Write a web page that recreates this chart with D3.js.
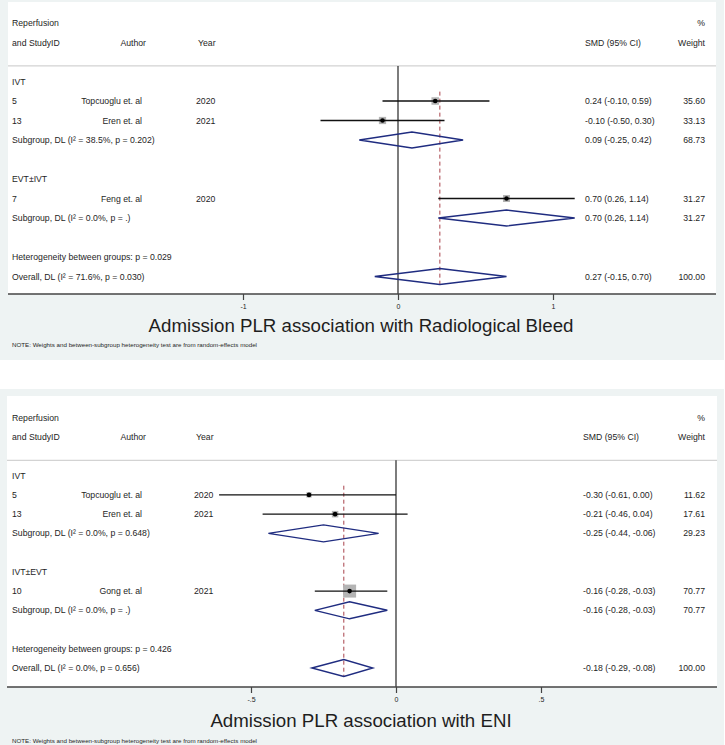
<!DOCTYPE html>
<html><head><meta charset="utf-8">
<script src="https://cdn.jsdelivr.net/npm/d3@7"></script>
<style>
body{margin:0;background:#fff}
text{font-family:"Liberation Sans",Arial,Helvetica,sans-serif;fill:#1e1e1e}
</style></head>
<body><svg id="c" width="725" height="745"></svg>
<script>
// ---------- Panel 1 data: Radiological Bleed ----------
const bleedGroups = ["IVT", "EVT±IVT"];
const bleedStudyIDs = ["5", "13", "7"];
const bleedAuthors = ["Topcuoglu et. al", "Eren et. al", "Feng et. al"];
const bleedYears = ["2020", "2021", "2020"];
const bleedStudyGroup = [0, 0, 1];
const bleedSMD = [0.24, -0.10, 0.70];
const bleedLow = [-0.10, -0.50, 0.26];
const bleedHigh = [0.59, 0.30, 1.14];
const bleedWeight = [35.60, 33.13, 31.27];
const bleedSubLabels = ["Subgroup, DL (I² = 38.5%, p = 0.202)", "Subgroup, DL (I² = 0.0%, p = .)"];
const bleedSubSMD = [0.09, 0.70];
const bleedSubLow = [-0.25, 0.26];
const bleedSubHigh = [0.42, 1.14];
const bleedSubWeight = [68.73, 31.27];
const bleedHet = "Heterogeneity between groups: p = 0.029";
const bleedOverallLabel = "Overall, DL (I² = 71.6%, p = 0.030)";
const bleedOverall = [0.27, -0.15, 0.70, 100.00];
const bleedTicks = [-1, 0, 1];
const bleedTickLabels = ["-1", "0", "1"];
const bleedTitle = "Admission PLR association with Radiological Bleed";

// ---------- Panel 2 data: ENI ----------
const eniGroups = ["IVT", "IVT±EVT"];
const eniStudyIDs = ["5", "13", "10"];
const eniAuthors = ["Topcuoglu et. al", "Eren et. al", "Gong et. al"];
const eniYears = ["2020", "2021", "2021"];
const eniStudyGroup = [0, 0, 1];
const eniSMD = [-0.30, -0.21, -0.16];
const eniLow = [-0.61, -0.46, -0.28];
const eniHigh = [0.00, 0.04, -0.03];
const eniWeight = [11.62, 17.61, 70.77];
const eniSubLabels = ["Subgroup, DL (I² = 0.0%, p = 0.648)", "Subgroup, DL (I² = 0.0%, p = .)"];
const eniSubSMD = [-0.25, -0.16];
const eniSubLow = [-0.44, -0.28];
const eniSubHigh = [-0.06, -0.03];
const eniSubWeight = [29.23, 70.77];
const eniHet = "Heterogeneity between groups: p = 0.426";
const eniOverallLabel = "Overall, DL (I² = 0.0%, p = 0.656)";
const eniOverall = [-0.18, -0.29, -0.08, 100.00];
const eniTicks = [-0.5, 0, 0.5];
const eniTickLabels = ["-.5", "0", ".5"];
const eniTitle = "Admission PLR association with ENI";

const noteText = "NOTE: Weights and between-subgroup heterogeneity test are from random-effects model";

const svg = d3.select("#c");
const fmt = v => v.toFixed(2);

function panel(cfg, d) {
  const g = svg.append("g");
  // backgrounds
  g.append("rect").attr("x", 0).attr("y", cfg.outerTop).attr("width", 724).attr("height", cfg.outerBottom - cfg.outerTop).attr("fill", "#eef3f3");
  g.append("rect").attr("x", cfg.innerLeft).attr("y", cfg.innerTop).attr("width", cfg.innerRight - cfg.innerLeft).attr("height", cfg.axisY - cfg.innerTop).attr("fill", "#fff");

  const x = d3.scaleLinear().domain(cfg.xDomain).range(cfg.xRange);
  const y = d3.scaleLinear().domain([0, 13]).range([cfg.row0, cfg.row13]);
  const box = d3.scaleSqrt().domain([0, d3.max(d.weight)]).range([0, cfg.maxBox]);
  const fs = 8.7;

  function txt(xp, yp, s, anchor, size) {
    g.append("text").attr("x", xp).attr("y", yp).attr("dy", "0.35em")
      .attr("text-anchor", anchor || "start").attr("font-size", size || fs).text(s);
  }

  // headers
  txt(12, y(0), "Reperfusion");
  txt(12, y(1), "and StudyID");
  txt(146, y(1), "Author", "end");
  txt(cfg.yearX + 2, y(1), "Year");
  txt(cfg.smdX, y(1), "SMD (95% CI)");
  txt(705, y(0), "%", "end");
  txt(705, y(1), "Weight", "end");
  g.append("line").attr("x1", cfg.innerLeft).attr("x2", cfg.innerRight)
    .attr("y1", y(2.2)).attr("y2", y(2.2)).attr("stroke", "#c8c8c8").attr("stroke-width", 1);

  // zero line
  g.append("line").attr("x1", x(0)).attr("x2", x(0)).attr("y1", y(2.2)).attr("y2", cfg.axisY)
    .attr("stroke", "#111").attr("stroke-width", 1.1);

  // rows
  let r = 3;
  const studyRows = [], subRows = [];
  d.groups.forEach((grp, gi) => {
    txt(12, y(r), grp); r++;
    d.ids.forEach((id, i) => {
      if (d.group[i] !== gi) return;
      studyRows[i] = r;
      txt(12, y(r), id);
      txt(142, y(r), d.authors[i], "end");
      txt(cfg.yearX, y(r), d.years[i]);
      txt(cfg.smdX, y(r), `${fmt(d.smd[i])} (${fmt(d.low[i])}, ${fmt(d.high[i])})`);
      txt(705, y(r), fmt(d.weight[i]), "end");
      r++;
    });
    subRows[gi] = r;
    txt(12, y(r), d.subLabels[gi]);
    txt(cfg.smdX, y(r), `${fmt(d.subSMD[gi])} (${fmt(d.subLow[gi])}, ${fmt(d.subHigh[gi])})`);
    txt(705, y(r), fmt(d.subWeight[gi]), "end");
    r += 2;
  });
  const hetRow = r;
  txt(12, y(hetRow), d.het);
  const ovRow = hetRow + 1;
  txt(12, y(ovRow), d.overallLabel);
  txt(cfg.smdX, y(ovRow), `${fmt(d.overall[0])} (${fmt(d.overall[1])}, ${fmt(d.overall[2])})`);
  txt(705, y(ovRow), fmt(d.overall[3]), "end");

  // overall dashed line
  g.append("line").attr("x1", x(d.overall[0])).attr("x2", x(d.overall[0]))
    .attr("y1", y(studyRows[0] - 0.48)).attr("y2", y(ovRow + 0.45))
    .attr("stroke", "#a8424a").attr("stroke-width", 1).attr("stroke-dasharray", "4,3");

  // studies
  d.ids.forEach((id, i) => {
    const yy = y(studyRows[i]);
    const s = box(d.weight[i]);
    g.append("rect").attr("x", x(d.smd[i]) - s / 2).attr("y", yy - s / 2).attr("width", s).attr("height", s).attr("fill", "#b4b4b4");
    g.append("line").attr("x1", x(d.low[i])).attr("x2", x(d.high[i])).attr("y1", yy).attr("y2", yy)
      .attr("stroke", "#111").attr("stroke-width", 1.4);
    g.append("circle").attr("cx", x(d.smd[i])).attr("cy", yy).attr("r", 2.3).attr("fill", "#000");
  });

  // diamonds
  const hh = cfg.diamondH;
  function diamond(c, lo, hi, row) {
    const yy = y(row);
    g.append("path").attr("d", `M${x(lo)},${yy}L${x(c)},${yy - hh}L${x(hi)},${yy}L${x(c)},${yy + hh}Z`)
      .attr("fill", "none").attr("stroke", "#1f2c80").attr("stroke-width", 1.4);
  }
  d.groups.forEach((grp, gi) => diamond(d.subSMD[gi], d.subLow[gi], d.subHigh[gi], subRows[gi]));
  diamond(d.overall[0], d.overall[1], d.overall[2], ovRow);

  // axis
  g.append("line").attr("x1", cfg.innerLeft).attr("x2", cfg.innerRight).attr("y1", cfg.axisY).attr("y2", cfg.axisY)
    .attr("stroke", "#444").attr("stroke-width", 1.4);
  const ax = g.append("g").attr("transform", `translate(0,${cfg.axisY})`)
    .call(d3.axisBottom(x).tickValues(d.ticks).tickFormat((t, i) => d.tickLabels[i]).tickSize(6).tickPadding(4));
  ax.select(".domain").remove();
  ax.selectAll(".tick line").attr("stroke", "#444").attr("stroke-width", 1.2);
  ax.selectAll(".tick text").attr("font-size", 7).attr("fill", "#222")
    .attr("font-family", "Liberation Sans, Arial, sans-serif");

  // title
  g.append("text").attr("x", 361).attr("y", cfg.titleY).attr("dy", "0.35em").attr("text-anchor", "middle")
    .attr("font-size", 18.7).attr("fill", "#111").text(d.title);
  g.append("text").attr("x", 12).attr("y", cfg.noteY).attr("dy", "0.35em").attr("font-size", 6.2).text(noteText);
}

panel({
  outerTop: 0, outerBottom: 360, innerLeft: 8, innerRight: 716, innerTop: 2, axisY: 294,
  xDomain: [0, 1], xRange: [398, 553], row0: 23, row13: 276.5,
  yearX: 196, smdX: 585, maxBox: 7.5, diamondH: 8, titleY: 325, noteY: 345
}, {
  groups: bleedGroups, ids: bleedStudyIDs, authors: bleedAuthors, years: bleedYears, group: bleedStudyGroup,
  smd: bleedSMD, low: bleedLow, high: bleedHigh, weight: bleedWeight,
  subLabels: bleedSubLabels, subSMD: bleedSubSMD, subLow: bleedSubLow, subHigh: bleedSubHigh, subWeight: bleedSubWeight,
  het: bleedHet, overallLabel: bleedOverallLabel, overall: bleedOverall,
  ticks: bleedTicks, tickLabels: bleedTickLabels, title: bleedTitle
});

panel({
  outerTop: 389, outerBottom: 745, innerLeft: 7, innerRight: 717, innerTop: 396, axisY: 687,
  xDomain: [0, 0.5], xRange: [396, 541], row0: 418, row13: 668,
  yearX: 194, smdX: 583, maxBox: 13, diamondH: 8.5, titleY: 720, noteY: 741
}, {
  groups: eniGroups, ids: eniStudyIDs, authors: eniAuthors, years: eniYears, group: eniStudyGroup,
  smd: eniSMD, low: eniLow, high: eniHigh, weight: eniWeight,
  subLabels: eniSubLabels, subSMD: eniSubSMD, subLow: eniSubLow, subHigh: eniSubHigh, subWeight: eniSubWeight,
  het: eniHet, overallLabel: eniOverallLabel, overall: eniOverall,
  ticks: eniTicks, tickLabels: eniTickLabels, title: eniTitle
});
</script></body></html>
